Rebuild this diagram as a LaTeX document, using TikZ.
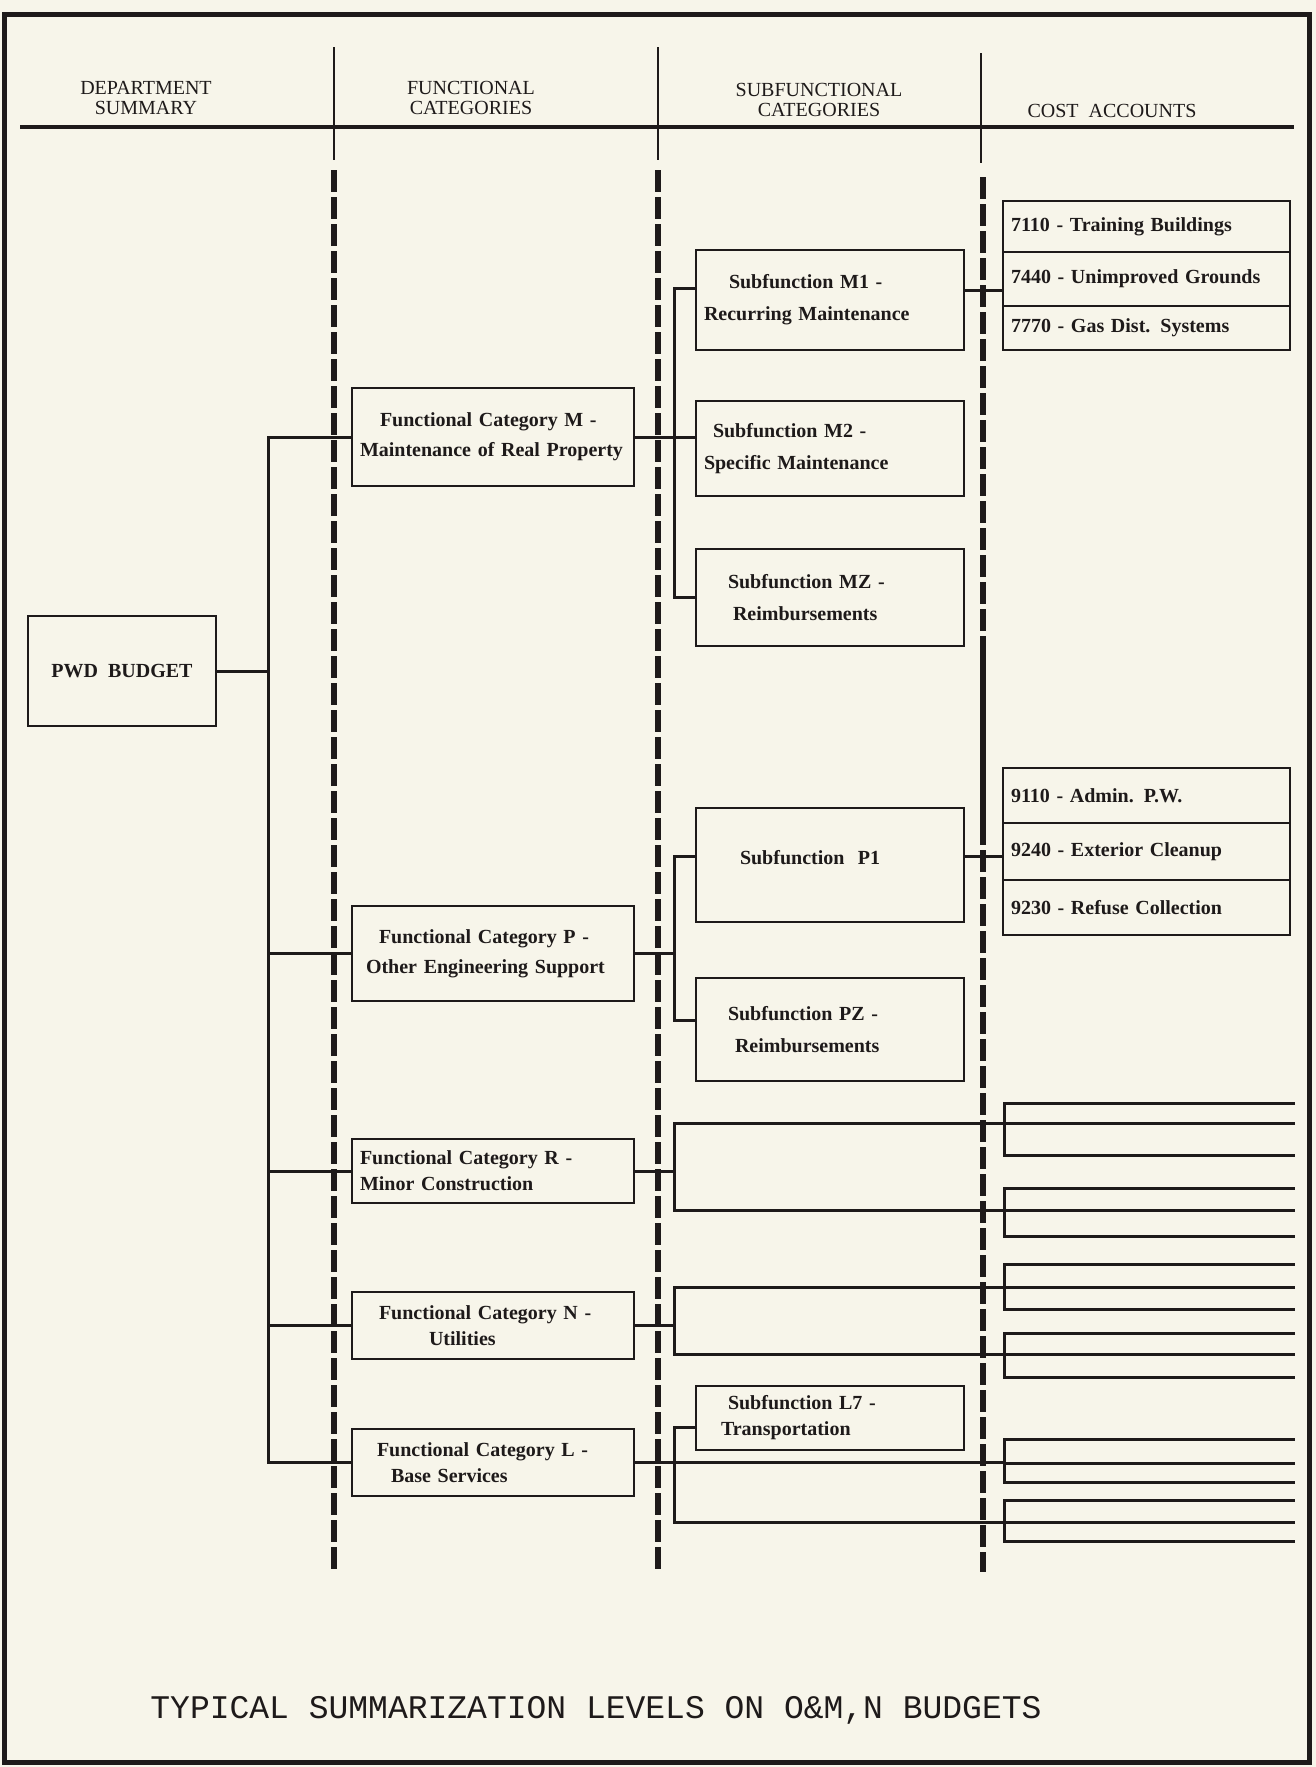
\documentclass[tikz,border=0pt]{standalone}
\usepackage{fontspec}
\setmainfont{Liberation Serif}
\newfontfamily\typewfont{Liberation Mono}
\usepackage{xcolor}

\definecolor{paper}{RGB}{247,245,234}
\definecolor{ink}{RGB}{30,26,26}

\tikzset{
  box/.style={draw=ink, line width=2.5pt, rectangle, inner xsep=8pt, inner ysep=4pt,
    text=ink, align=left, font=\bfseries\fontsize{20}{30}\selectfont},
  fcbox/.style={box, minimum width=282pt, text width=266pt},
  sfbox/.style={box, minimum width=268pt, text width=252pt, font=\bfseries\fontsize{20}{32}\selectfont},
  cabox/.style={box, minimum width=287pt, text width=271pt},
  tight/.style={font=\bfseries\fontsize{20}{26}\selectfont},
  link/.style={draw=ink, line width=3pt, line cap=rect},
  hatch/.style={draw=ink, line width=6pt, dash pattern=on 22pt off 5pt},
  rule/.style={draw=ink, line width=2.5pt},
  header/.style={text=ink, align=center, font=\fontsize{20}{20}\selectfont},
}

\begin{document}
\begin{tikzpicture}[x=1pt, y=-1pt]
  \fill[paper] (0,0) rectangle (1316,1767);
  \draw[ink, line width=5pt] (4,14) rectangle (1309,1762);

  % column headings
  \draw[ink, line width=4pt] (20,127) -- (1294,127);
  \draw[rule] (334,47) -- (334,160);
  \draw[rule] (658,47) -- (658,160);
  \draw[rule] (981,53) -- (981,163);
  \node[header] (hdDept) at (146,98) {DEPARTMENT\\SUMMARY};
  \node[header] (hdFunc) at (471,98) {FUNCTIONAL\\CATEGORIES};
  \node[header] (hdSub) at (819,100) {SUBFUNCTIONAL\\CATEGORIES};
  \node[header] (hdCost) at (1112,111) {COST~ ACCOUNTS};

  % broken column dividers
  \draw[hatch] (334,170) -- (334,1572);
  \draw[hatch] (658,170) -- (658,1572);
  \draw[hatch] (983,177) -- (983,650);
  \draw[ink, line width=6pt] (983,650) -- (983,845);
  \draw[hatch] (983,850) -- (983,1572);

  % department summary
  \node[box, align=center, minimum width=188pt, minimum height=110pt] (pwd) at (122,671) {PWD~ BUDGET};

  % functional categories
  \node[fcbox, minimum height=98pt] (fcM) at (493,437) {\hspace*{20pt}Functional Category M -\\Maintenance of Real Property};
  \node[fcbox, minimum height=95pt] (fcP) at (493,953.5) {\hspace*{19pt}Functional Category P -\\\hspace*{6pt}Other Engineering Support};
  \node[fcbox, tight, minimum height=64pt] (fcR) at (493,1171) {Functional Category R -\\Minor Construction};
  \node[fcbox, tight, minimum height=67pt] (fcN) at (493,1325.5) {\hspace*{19pt}Functional Category N -\\\hspace*{69pt}Utilities};
  \node[fcbox, tight, minimum height=67pt] (fcL) at (493,1462.5) {\hspace*{17pt}Functional Category L -\\\hspace*{31pt}Base Services};

  % subfunctional categories
  \node[sfbox, minimum height=100pt] (sfM1) at (830,300) {\hspace*{25pt}Subfunction M1 -\\Recurring Maintenance};
  \node[sfbox, minimum height=95pt] (sfM2) at (830,448.5) {\hspace*{9pt}Subfunction M2 -\\Specific Maintenance};
  \node[sfbox, minimum height=97pt] (sfMZ) at (830,597.5) {\hspace*{24pt}Subfunction MZ -\\\hspace*{29pt}Reimbursements};
  \node[sfbox, minimum height=114pt, text depth=16pt] (sfP1) at (830,865) {\hspace*{36pt}Subfunction~ P1};
  \node[sfbox, minimum height=103pt] (sfPZ) at (830,1029.5) {\hspace*{24pt}Subfunction PZ -\\\hspace*{31pt}Reimbursements};
  \node[sfbox, tight, minimum height=64pt] (sfL7) at (830,1418) {\hspace*{24pt}Subfunction L7 -\\\hspace*{17pt}Transportation};

  % cost accounts
  \node[cabox, minimum height=51pt] (ca7110) at (1146.5,226.5) {7110 - Training Buildings};
  \node[cabox, minimum height=54pt] (ca7440) at (1146.5,279) {7440 - Unimproved Grounds};
  \node[cabox, minimum height=44pt] (ca7770) at (1146.5,328) {7770 - Gas Dist. Systems};
  \node[cabox, minimum height=55pt] (ca9110) at (1146.5,795.5) {9110 - Admin. P.W.};
  \node[cabox, minimum height=57pt] (ca9240) at (1146.5,851.5) {9240 - Exterior Cleanup};
  \node[cabox, minimum height=55pt] (ca9230) at (1146.5,907.5) {9230 - Refuse Collection};

  \coordinate (trunkA) at (268,0);
  \coordinate (trunkB) at (674,0);
  \coordinate (trunkC) at (1004,0);

  % blank cost accounts
  \foreach \g/\ya/\ym/\yb in {rUp/1103/1123/1155, rLo/1188/1210/1236, nUp/1264/1287/1309,
      nLo/1333/1354/1377, lUp/1439/1463/1482, lLo/1500/1522/1541}{
    \coordinate (\g) at (1004,\ym);
    \draw[link] (1004,\ya) -- (1004,\yb);
    \draw[link] (1004,\ya) -- (1293,\ya);
    \draw[link] (\g) -- (1293,\ym);
    \draw[link] (1004,\yb) -- (1293,\yb);
  }

  % department -> functional
  \draw[link] (pwd.east) -- (pwd.east -| trunkA);
  \draw[link] (trunkA |- fcM.west) -- (trunkA |- fcL.west);
  \foreach \n in {fcM,fcP,fcR,fcN,fcL}
    \draw[link] (trunkA |- \n.west) -- (\n.west);

  % functional -> subfunctional
  \coordinate (m1in) at ([yshift=12pt]sfM1.west);
  \draw[link] (fcM.east) -- (fcM.east -| sfM2.west);
  \draw[link] (trunkB |- m1in) -- (trunkB |- sfMZ.west);
  \draw[link] (trunkB |- m1in) -- (m1in);
  \draw[link] (trunkB |- sfMZ.west) -- (sfMZ.west);

  \coordinate (p1in) at ([yshift=9pt]sfP1.west);
  \coordinate (pzin) at ([yshift=9pt]sfPZ.west);
  \draw[link] (fcP.east) -- (fcP.east -| trunkB);
  \draw[link] (trunkB |- p1in) -- (trunkB |- pzin);
  \draw[link] (trunkB |- p1in) -- (p1in);
  \draw[link] (trunkB |- pzin) -- (pzin);

  \draw[link] (fcR.east) -- (fcR.east -| trunkB);
  \draw[link] (trunkB |- rUp) -- (trunkB |- rLo);
  \draw[link] (trunkB |- rUp) -- (rUp);
  \draw[link] (trunkB |- rLo) -- (rLo);

  \draw[link] (fcN.east) -- (fcN.east -| trunkB);
  \draw[link] (trunkB |- nUp) -- (trunkB |- nLo);
  \draw[link] (trunkB |- nUp) -- (nUp);
  \draw[link] (trunkB |- nLo) -- (nLo);

  \coordinate (l7in) at ([yshift=-9pt]sfL7.west);
  \draw[link] (fcL.east) -- (fcL.east -| trunkC);
  \draw[link] (trunkB |- l7in) -- (trunkB |- lLo);
  \draw[link] (trunkB |- l7in) -- (l7in);
  \draw[link] (trunkB |- lLo) -- (lLo);

  % subfunctional -> cost accounts
  \coordinate (m1out) at ([yshift=10pt]sfM1.east);
  \draw[link] (m1out) -- (m1out -| ca7440.west);
  \coordinate (p1out) at ([yshift=9pt]sfP1.east);
  \draw[link] (p1out) -- (p1out -| ca9240.west);

  \node[text=ink, font=\typewfont\fontsize{33}{33}\selectfont] (caption) at (596,1710)
    {TYPICAL SUMMARIZATION LEVELS ON O\&M,N BUDGETS};
\end{tikzpicture}
\end{document}
